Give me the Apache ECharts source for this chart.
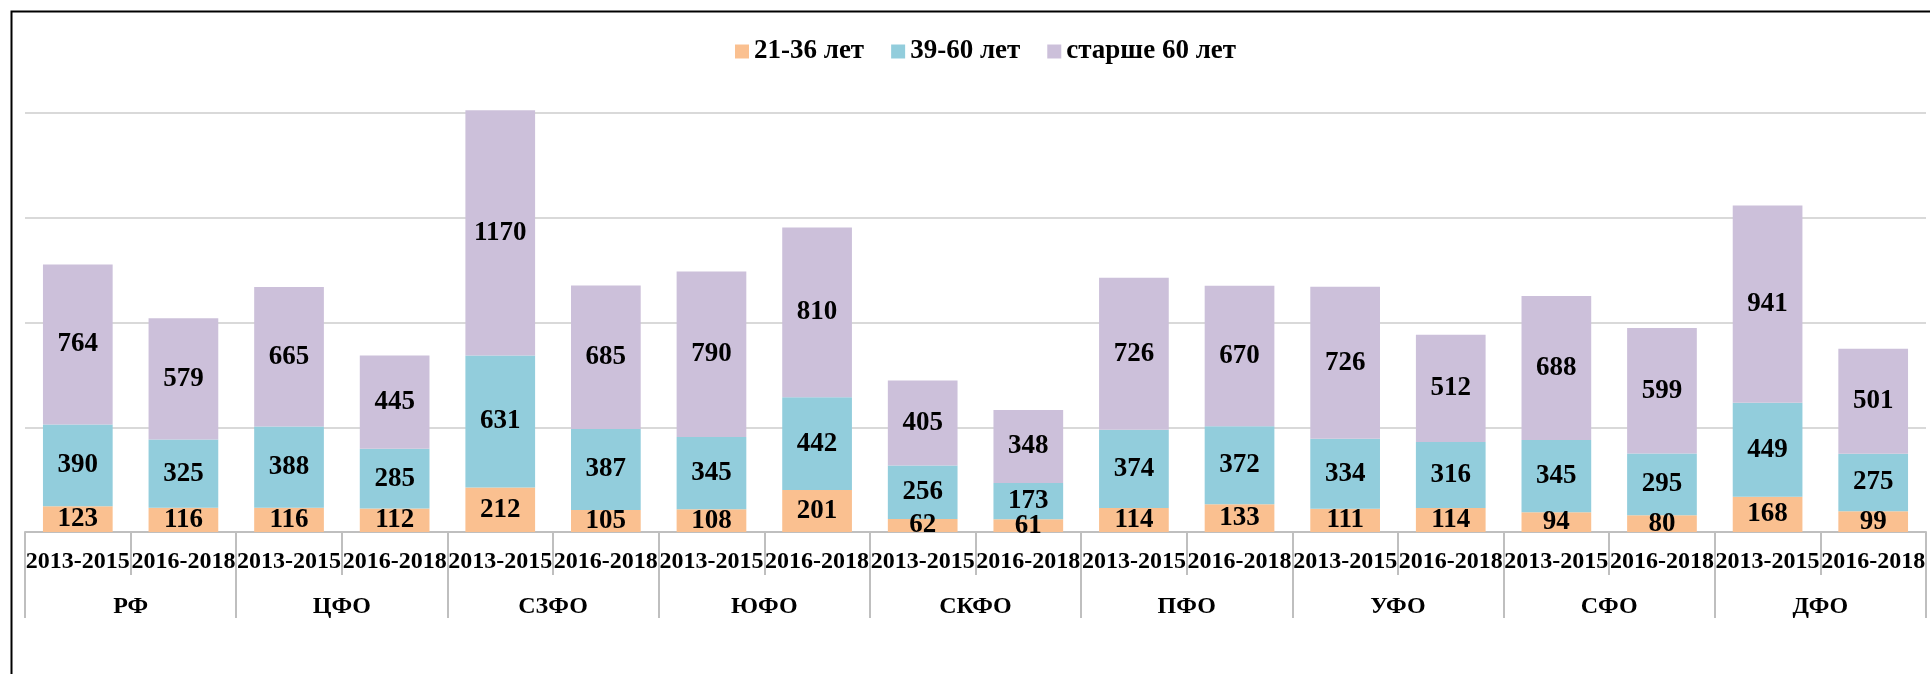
<!DOCTYPE html>
<html>
<head>
<meta charset="utf-8">
<script src="https://cdn.jsdelivr.net/npm/echarts@6/dist/echarts.min.js"></script>
<style>
  html, body { margin: 0; padding: 0; background: #fff; overflow: hidden; }
  #chart { width: 1930px; height: 674px; }
</style>
</head>
<body>
<div id="chart"></div>
<script>
// periods repeat for every region
const regions = ['РФ', 'ЦФО', 'СЗФО', 'ЮФО', 'СКФО', 'ПФО', 'УФО', 'СФО', 'ДФО'];
const periods = ['2013-2015', '2016-2018'];
const categories = regions.flatMap(() => periods);

const age21_36 = [123, 116, 116, 112, 212, 105, 108, 201, 62, 61, 114, 133, 111, 114, 94, 80, 168, 99];
const age39_60 = [390, 325, 388, 285, 631, 387, 345, 442, 256, 173, 374, 372, 334, 316, 345, 295, 449, 275];
const age60plus = [764, 579, 665, 445, 1170, 685, 790, 810, 405, 348, 726, 670, 726, 512, 688, 599, 941, 501];

const seriesNames = ['21-36 лет', '39-60 лет', 'старше 60 лет'];
const colors = ['#FAC090', '#92CDDC', '#CCC0DA'];

const font = 'Liberation Serif';

const chart = echarts.init(document.getElementById('chart'));

function makeSeries(name, data, color) {
  return {
    name: name,
    type: 'bar',
    stack: 'total',
    xAxisIndex: 0,
    barCategoryGap: '34%',
    clip: false,
    itemStyle: { color: color },
    label: {
      show: true,
      position: 'inside',
      color: '#000',
      fontFamily: font,
      fontWeight: 'bold',
      fontSize: 27
    },
    emphasis: { disabled: true },
    data: data
  };
}

const option = {
  animation: false,
  color: colors,
  graphic: [{
    type: 'rect',
    left: 9,
    top: 9,
    shape: { width: 2000, height: 800 },
    style: { fill: 'none', stroke: '#000', lineWidth: 2 },
    silent: true
  }],
  legend: {
    top: 33,
    left: 730,
    icon: 'rect',
    itemWidth: 14,
    itemHeight: 14,
    itemGap: 27,
    textStyle: { fontFamily: font, fontWeight: 'bold', fontSize: 27, color: '#000' },
    data: seriesNames
  },
  grid: { left: 25, right: 4, top: 113, bottom: 142 },
  xAxis: [
    {
      type: 'category',
      data: categories,
      position: 'bottom',
      axisLine: { lineStyle: { color: '#BFBFBF', width: 2 } },
      axisTick: { show: true, interval: 0, length: 43, lineStyle: { color: '#BFBFBF', width: 2 } },
      axisLabel: {
        interval: 0,
        margin: 18,
        color: '#000',
        fontFamily: font,
        fontWeight: 'bold',
        fontSize: 24
      }
    },
    {
      type: 'category',
      data: regions,
      position: 'bottom',
      axisLine: { show: false },
      axisTick: { show: true, interval: 0, length: 86, lineStyle: { color: '#BFBFBF', width: 2 } },
      axisLabel: {
        interval: 0,
        margin: 63,
        color: '#000',
        fontFamily: font,
        fontWeight: 'bold',
        fontSize: 24
      }
    }
  ],
  yAxis: {
    type: 'value',
    min: 0,
    max: 2000,
    interval: 500,
    axisLine: { show: false },
    axisTick: { show: false },
    axisLabel: { show: false },
    splitLine: { lineStyle: { color: '#D9D9D9', width: 2 } }
  },
  series: [
    makeSeries(seriesNames[0], age21_36, colors[0]),
    makeSeries(seriesNames[1], age39_60, colors[1]),
    makeSeries(seriesNames[2], age60plus, colors[2])
  ]
};

chart.setOption(option);
window.addEventListener('resize', () => {
  chart.resize();
});
</script>
</body>
</html>
